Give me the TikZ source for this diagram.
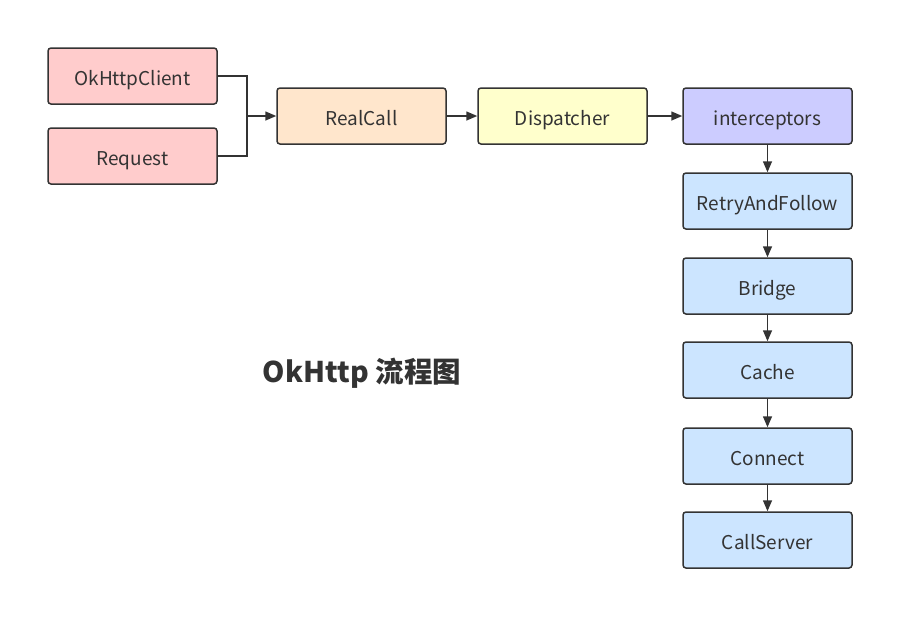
\documentclass[tikz,border=0pt]{standalone}
\usepackage{fontspec}
\setmainfont{Noto Sans CJK SC}
\usetikzlibrary{arrows.meta}
\definecolor{pinkf}{HTML}{FFCCCC}
\definecolor{peachf}{HTML}{FFE6CC}
\definecolor{yellowf}{HTML}{FFFFCC}
\definecolor{lavf}{HTML}{CCCCFF}
\definecolor{bluef}{HTML}{CCE5FF}
\definecolor{edgec}{HTML}{333333}
\tikzset{
  box/.style={draw=edgec, line width=1.5pt, rounded corners=3pt, minimum width=169pt, minimum height=56pt, inner sep=0pt, text=edgec, text height=19pt, text depth=0pt, font=\fontsize{19}{22}\selectfont},
  conn/.style={draw=edgec, line width=1.5pt, -{Triangle[length=11pt,width=9pt]}},
}
\begin{document}
\begin{tikzpicture}[x=1pt,y=-1pt]
\useasboundingbox (0,0) rectangle (914,630);
\node[box, fill=pinkf] (client) at (132.5,76) {OkHttpClient};
\node[box, fill=pinkf] (req) at (132.5,156) {Request};
\node[box, fill=peachf] (real) at (361.5,116) {RealCall};
\node[box, fill=yellowf] (disp) at (562.5,116) {Dispatcher};
\node[box, fill=lavf] (inter) at (767.5,116) {interceptors};
\node[box, fill=bluef] (retry) at (767.5,201) {RetryAndFollow};
\node[box, fill=bluef] (bridge) at (767.5,286) {Bridge};
\node[box, fill=bluef] (cache) at (767.5,370) {Cache};
\node[box, fill=bluef] (connect) at (767.5,456) {Connect};
\node[box, fill=bluef] (server) at (767.5,540) {CallServer};
\node[text=edgec, font=\fontsize{28.5}{32}\selectfont\bfseries, text height=23pt, text depth=1pt] (title) at (362,371) {OkHttp 流程图};
\coordinate (j) at (247,116);
\draw[draw=edgec, line width=1.5pt] (client.east) -| (j);
\draw[draw=edgec, line width=1.5pt] (req.east) -| (j);
\draw[conn] (j) -- (real.west);
\draw[conn] (real) -- (disp);
\draw[conn] (disp) -- (inter);
\draw[conn] (inter) -- (retry);
\draw[conn] (retry) -- (bridge);
\draw[conn] (bridge) -- (cache);
\draw[conn] (cache) -- (connect);
\draw[conn] (connect) -- (server);
\end{tikzpicture}
\end{document}
